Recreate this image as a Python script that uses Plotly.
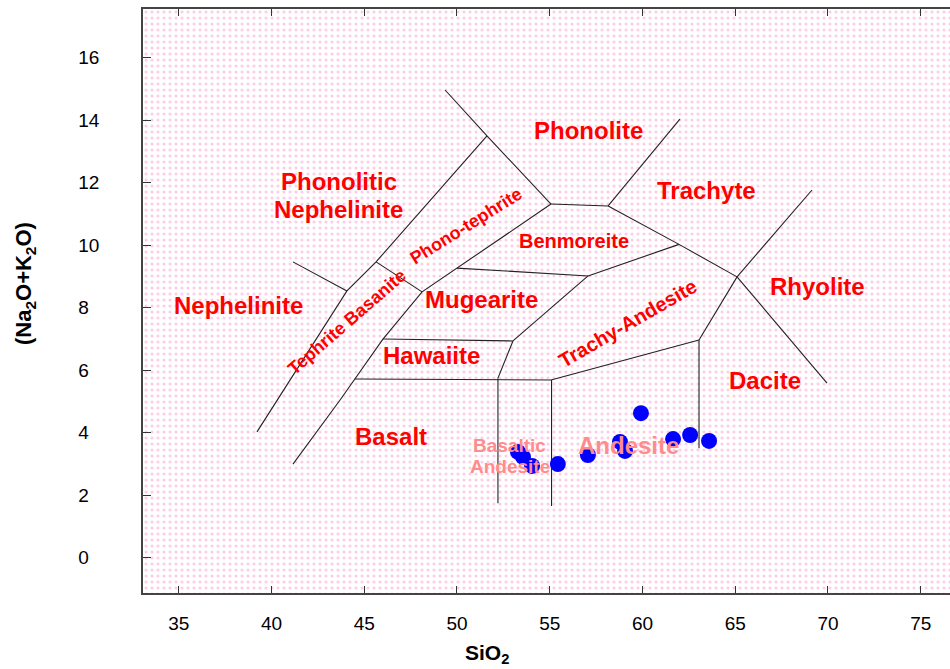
import plotly.graph_objects as go

# ---- data ----
sio2 = [59.92, 53.29, 53.56, 54.05, 55.44, 57.06, 58.79, 59.06, 61.65, 62.57, 63.59]
total_alkali = [4.62, 3.38, 3.22, 2.93, 2.99, 3.28, 3.70, 3.41, 3.79, 3.92, 3.73]

x_ticks = [35, 40, 45, 50, 55, 60, 65, 70, 75]
y_ticks = [0, 2, 4, 6, 8, 10, 12, 14, 16]

# TAS field boundaries (SiO2, Na2O+K2O), polylines separated by None
line_x = [39.22, 44.07, 45.64, 51.62, None,
          49.36, 51.62, 55.07, None,
          41.16, 44.07, None,
          45.64, 48.12, None,
          41.16, 43.70, 46.01, 48.12, 55.07, None,
          55.07, 58.15, None,
          58.15, 62.02, None,
          58.15, 61.97, 65.10, None,
          61.97, 57.07, None,
          50.00, 57.07, None,
          57.07, 53.02, None,
          46.01, 53.02, None,
          53.02, 52.21, None,
          44.49, 55.07, None,
          52.21, 52.21, None,
          55.10, 55.10, None,
          55.07, 63.05, None,
          63.05, 63.05, None,
          63.05, 65.10, None,
          65.10, 69.14, None,
          65.10, 69.95]
line_y = [4.02, 8.53, 9.46, 13.49, None,
          14.96, 13.49, 11.31, None,
          9.46, 8.53, None,
          9.46, 8.50, None,
          2.99, 5.04, 6.99, 8.50, 11.31, None,
          11.31, 11.25, None,
          11.25, 14.03, None,
          11.25, 10.02, 8.98, None,
          10.02, 9.01, None,
          9.26, 9.01, None,
          9.01, 6.93, None,
          6.99, 6.93, None,
          6.93, 5.74, None,
          5.71, 5.68, None,
          5.74, 1.74, None,
          5.68, 1.65, None,
          5.68, 6.96, None,
          6.96, 3.50, None,
          6.96, 8.98, None,
          8.98, 11.76, None,
          8.98, 5.58]

field_names = ["Phonolite", "Trachyte", "Phonolitic", "Nephelinite", "Nephelinite",
               "Benmoreite", "Phono-tephrite", "Mugearite", "Tephrite Basanite",
               "Hawaiite", "Trachy-Andesite", "Rhyolite", "Dacite", "Basalt",
               "Basaltic", "Andesite", "Andesite"]

# ---- layout of labels (position x, y, size, angle, color) ----
RED = "#ff0000"
PINK = "#ff8c8c"
label_style = [
    (57.08, 13.68, 24, 0, RED),
    (63.48, 11.76, 24, 0, RED),
    (43.64, 12.02, 24, 0, RED),
    (43.64, 11.15, 24, 0, RED),
    (38.25, 8.08, 24, 0, RED),
    (56.31, 10.13, 20, 0, RED),
    (50.49, 10.61, 18, -32, RED),
    (51.30, 8.27, 24, 0, RED),
    (44.07, 7.54, 18, -41, RED),
    (48.65, 6.45, 24, 0, RED),
    (59.23, 7.50, 20, -30, RED),
    (69.46, 8.66, 24, 0, RED),
    (66.60, 5.65, 24, 0, RED),
    (46.44, 3.86, 24, 0, RED),
    (52.86, 3.57, 19, 0, PINK),
    (52.86, 2.90, 19, 0, PINK),
    (59.23, 3.60, 24, 0, PINK),
]

FONT = "Liberation Sans, Arial, sans-serif"
X0, X1 = 33.076, 76.58
Y0, Y1 = -1.136, 17.552

fig = go.Figure()

# dotted pink background
fig.add_trace(go.Scatter(
    x=[32, 78, 78, 32, 32], y=[-3, -3, 20, 20, -3],
    mode="none", fill="toself", fillcolor="white",
    fillpattern=dict(shape=".", fgcolor="#ff99cc", bgcolor="white", size=6, solidity=0.22),
    hoverinfo="skip", showlegend=False))

fig.add_trace(go.Scatter(
    x=line_x, y=line_y, mode="lines",
    line=dict(color="#222222", width=1.1),
    hoverinfo="skip", showlegend=False, connectgaps=False))

for name, (lx, ly, fs, ang, col) in zip(field_names, label_style):
    fig.add_annotation(x=lx, y=ly, xref="x", yref="y", text="<b>%s</b>" % name,
                       showarrow=False, textangle=ang, xanchor="center", yanchor="middle",
                       font=dict(family=FONT, size=fs, color=col))

fig.add_trace(go.Scatter(
    x=sio2, y=total_alkali, mode="markers",
    marker=dict(color="#0000ff", size=16, line=dict(width=0)),
    showlegend=False))

# axis titles
fig.add_annotation(x=(487 - 143) / 807, y=(593 - 654) / 584, xref="paper", yref="paper",
                   xanchor="center", yanchor="middle",
                   text="<b>SiO<sub>2</sub></b>", showarrow=False,
                   font=dict(family=FONT, size=21, color="black"))
fig.add_annotation(x=(25 - 143) / 807, y=(593 - 284) / 584, xref="paper", yref="paper",
                   xanchor="center", yanchor="middle",
                   text="<b>(Na<sub>2</sub>O+K<sub>2</sub>O)</b>", showarrow=False, textangle=-90,
                   font=dict(family=FONT, size=22, color="black"))

y_ticktext = [(str(v) if v >= 10 else str(v) + "\u2007") for v in y_ticks]

fig.update_layout(
    width=950, height=669,
    margin=dict(l=143, r=0, t=9, b=76),
    paper_bgcolor="white", plot_bgcolor="white",
    xaxis=dict(range=[X0, X1], tickvals=x_ticks, ticks="inside", ticklen=7,
               tickcolor="#333", showline=True, linecolor="#444", linewidth=1.5,
               mirror="ticks", showgrid=False, zeroline=False,
               tickfont=dict(family=FONT, size=19, color="black"),
               ticklabelstandoff=12),
    yaxis=dict(range=[Y0, Y1], tickvals=y_ticks, ticktext=y_ticktext, ticks="inside",
               ticklen=8, tickcolor="#333", showline=True, linecolor="#444", linewidth=1.5,
               mirror=False, showgrid=False, zeroline=False,
               tickfont=dict(family=FONT, size=19, color="black"),
               ticklabelstandoff=38),
)

fig.write_html("out.html")
